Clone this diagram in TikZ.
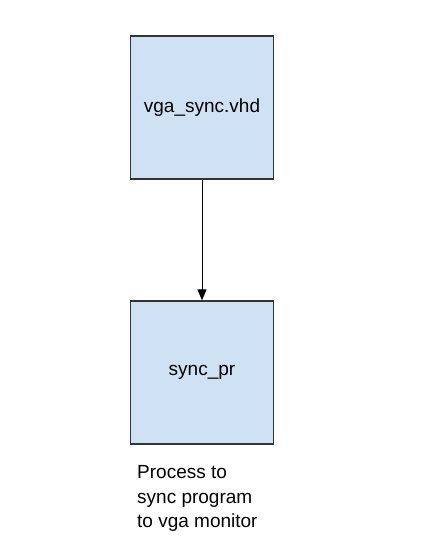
\documentclass[tikz,border=0pt]{standalone}
\usepackage{fontspec}
\setmainfont{Liberation Sans}
\usetikzlibrary{arrows.meta}
\definecolor{boxfill}{HTML}{CFE2F3}
\definecolor{boxline}{HTML}{333333}
\tikzset{
  block/.style={draw=boxline, fill=boxfill, line width=1.3pt, minimum width=143pt, minimum height=143pt, inner sep=0pt, font=\fontsize{19pt}{24.5pt}\selectfont},
  conn/.style={draw=black, line width=1pt, -{Triangle[length=11pt,width=9pt]}},
  note/.style={inner sep=0pt, align=left, anchor=north west, font=\fontsize{19pt}{24.5pt}\selectfont}
}
\begin{document}
\begin{tikzpicture}[x=1pt,y=1pt]
\useasboundingbox (0,0) rectangle (436,-538);
\node[block] (top) at (202,-107.5) {vga\_sync.vhd};
\node[block] (bot) at (202,-372.5) {sync\_pr};
\draw[conn] (top.south) -- (bot.north);
\node[note] (txt) at (137,-465.5) {Process to\\sync program\\to vga monitor};
\end{tikzpicture}
\end{document}
